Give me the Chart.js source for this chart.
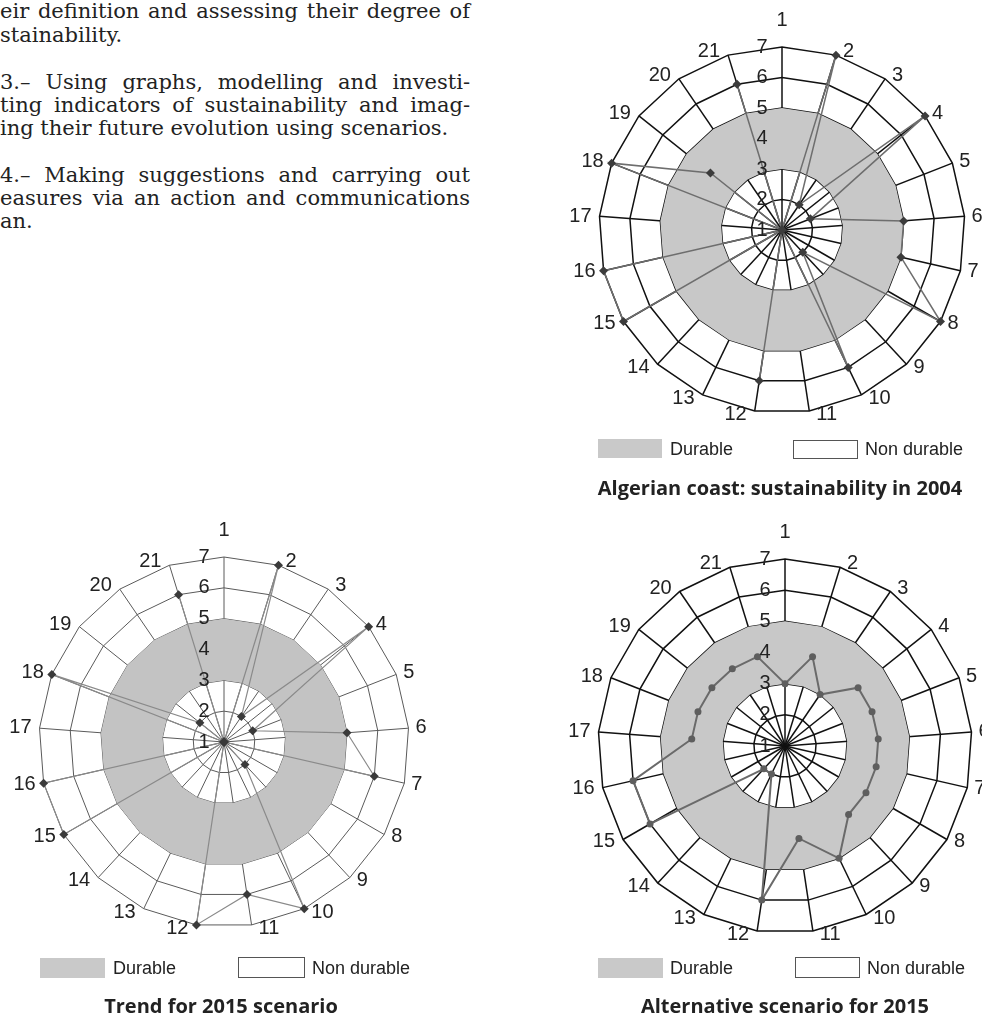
<!DOCTYPE html>
<html>
<head>
<meta charset="utf-8">
<script src="https://cdn.jsdelivr.net/npm/chart.js@4.4.1/dist/chart.umd.min.js"></script>
<style>
  html, body { margin: 0; padding: 0; background: #fff; }
  body { width: 982px; height: 1022px; position: relative; overflow: hidden; }
  .txt { position: absolute; left: 0; width: 470px; font-family: "DejaVu Serif", serif; font-size: 21px; color: #222; white-space: nowrap; line-height: 23px; }
  .just { text-align: justify; text-align-last: justify; }
  .cv { position: absolute; }
  .box { position: absolute; height: 19px; box-sizing: border-box; }
  .lg { position: absolute; font-family: "Liberation Sans", Arial, sans-serif; font-size: 18px; color: #222; line-height: 20px; }
  .ttl { position: absolute; width: 500px; text-align: center; font-family: "Open Sans", sans-serif; font-weight: 700; font-size: 20px; color: #222; line-height: 24px; }
</style>
</head>
<body>

<div class="txt just" style="top:0px">eir definition and assessing their degree of</div>
<div class="txt" style="top:24px">stainability.</div>
<div class="txt just" style="top:71px">3.– Using graphs, modelling and investi-</div>
<div class="txt just" style="top:94px">ting indicators of sustainability and imag-</div>
<div class="txt" style="top:117px">ing their future evolution using scenarios.</div>
<div class="txt just" style="top:164px">4.– Making suggestions and carrying out</div>
<div class="txt just" style="top:187px">easures via an action and communications</div>
<div class="txt" style="top:210px">an.</div>

<canvas id="chart2004" class="cv"></canvas>
<canvas id="chartTrend" class="cv"></canvas>
<canvas id="chartAlt" class="cv"></canvas>

<!-- legends -->
<div class="box" style="left:598px;top:439px;width:64px;background:#c9c9c9"></div>
<div class="lg" style="left:670px;top:439px">Durable</div>
<div class="box" style="left:793px;top:440px;width:65px;border:1.5px solid #555"></div>
<div class="lg" style="left:865px;top:439px">Non durable</div>
<div class="ttl" style="left:530px;top:476px">Algerian coast: sustainability in 2004</div>

<div class="box" style="left:40px;top:958px;width:65px;height:20px;background:#c9c9c9"></div>
<div class="lg" style="left:113px;top:958px">Durable</div>
<div class="box" style="left:238px;top:957px;width:67px;height:21px;border:1.5px solid #555"></div>
<div class="lg" style="left:312px;top:958px">Non durable</div>
<div class="ttl" style="left:-29px;top:994px">Trend for 2015 scenario</div>

<div class="box" style="left:598px;top:958px;width:65px;height:20px;background:#c9c9c9"></div>
<div class="lg" style="left:670px;top:958px">Durable</div>
<div class="box" style="left:795px;top:957px;width:65px;height:21px;border:1.5px solid #555"></div>
<div class="lg" style="left:867px;top:958px">Non durable</div>
<div class="ttl" style="left:535px;top:994px">Alternative scenario for 2015</div>

<script>
// indicators 1..21 around the radar
const indicators = ["1", "2", "3", "4", "5", "6", "7", "8", "9", "10", "11",
  "12", "13", "14", "15", "16", "17", "18", "19", "20", "21"];
const tickValues = [1, 2, 3, 4, 5, 6, 7];

// scores
const coast2004 = [1, 7, 2, 7, 2, 5, 5, 7, 2, 6, 1, 6, 1, 1, 7, 7, 1, 7, 4, 1, 6];
const trend2015 = [1, 7, 2, 7, 2, 5, 6, 1, 2, 7, 6, 7, 1, 1, 7, 7, 1, 7, 2, 1, 6];
const alt2015 = [3, 4, 3, 4, 4, 4, 4, 4, 4, 5, 4, 6, 2, 2, 6, 6, 4, 4, 4, 4, 4];

// "durable" band between these two rings
const durableLow = 3;
const durableHigh = 5;

var LABEL_FONT = '20px "Liberation Sans", Arial, sans-serif';

// tick numbers sit just left of the vertical spoke, indicator numbers beside the outer corners
var radarText = {
  id: "radarText",
  afterDraw: function (chart) {
    var s = chart.scales.r;
    var ctx = chart.ctx;
    ctx.save();
    ctx.font = LABEL_FONT;
    ctx.fillStyle = "#222";
    ctx.textBaseline = "middle";
    ctx.textAlign = "center";
    tickValues.forEach(function (v) {
      var d = s.getDistanceFromCenterForValue(v);
      ctx.fillText(String(v), s.xCenter - 20, s.yCenter - d);
    });
    indicators.forEach(function (lab, i) {
      var p = s.getPointPosition(i, s.drawingArea);
      var a = s.getIndexAngle(i);
      var sx = Math.sin(a);
      if (Math.abs(sx) < 0.01) {
        ctx.textAlign = "center";
        ctx.fillText(lab, p.x, p.y - 27);
      } else {
        ctx.textAlign = sx > 0 ? "left" : "right";
        ctx.fillText(lab, p.x + (sx > 0 ? 7 : -8), p.y - 4 * Math.cos(a));
      }
    });
    ctx.restore();
  },
};

function makeRadar(id, series, st) {
  var canvas = document.getElementById(id);
  canvas.width = 440;
  canvas.height = 440;
  var chart = new Chart(canvas.getContext("2d"), {
    type: "radar",
    data: {
      labels: indicators,
      datasets: [
        {
          data: series,
          borderColor: st.line,
          borderWidth: st.lineWidth,
          pointStyle: st.marker,
          pointRadius: st.markerSize,
          pointBackgroundColor: st.markerColor,
          pointBorderColor: st.markerColor,
          pointBorderWidth: 0,
          fill: false,
          tension: 0,
        },
        {
          data: indicators.map(function () { return durableHigh; }),
          borderWidth: 0,
          pointRadius: 0,
          backgroundColor: st.band,
          fill: "+1",
        },
        {
          data: indicators.map(function () { return durableLow; }),
          borderWidth: 0,
          pointRadius: 0,
          fill: false,
        },
      ],
    },
    options: {
      responsive: false,
      maintainAspectRatio: false,
      animation: false,
      events: [],
      layout: { padding: 40 },
      plugins: { legend: { display: false }, tooltip: { enabled: false } },
      scales: {
        r: {
          z: 1,
          min: 1,
          max: 7,
          ticks: { display: false, stepSize: 1 },
          grid: { color: st.grid, lineWidth: st.gridWidth, circular: false },
          angleLines: { color: st.grid, lineWidth: st.gridWidth },
          pointLabels: { display: false },
        },
      },
    },
    plugins: [radarText],
  });

  // grow the canvas until the outer ring has the wanted radius, then centre it
  var grow = Math.round(st.r - chart.scales.r.drawingArea);
  chart.resize(440 + 2 * grow, 440 + 2 * grow);
  var s = chart.scales.r;
  canvas.style.left = st.cx - s.xCenter + "px";
  canvas.style.top = st.cy - s.yCenter + "px";
  return chart;
}

makeRadar("chart2004", coast2004, {
  cx: 782, cy: 230, r: 183,
  grid: "#111", gridWidth: 1.5, band: "#c8c8c8",
  line: "#6e6e6e", lineWidth: 1.5,
  marker: "rectRot", markerSize: 4.5, markerColor: "#3c3c3c",
});

makeRadar("chartTrend", trend2015, {
  cx: 224, cy: 742, r: 185,
  grid: "#5a5a5a", gridWidth: 1, band: "#c3c3c3",
  line: "#8a8a8a", lineWidth: 1.2,
  marker: "rectRot", markerSize: 4.5, markerColor: "#3a3a3a",
});

makeRadar("chartAlt", alt2015, {
  cx: 785, cy: 746, r: 187,
  grid: "#111", gridWidth: 1.5, band: "#c8c8c8",
  line: "#6a6a6a", lineWidth: 2,
  marker: "circle", markerSize: 3.5, markerColor: "#5e5e5e",
});
</script>
</body>
</html>
